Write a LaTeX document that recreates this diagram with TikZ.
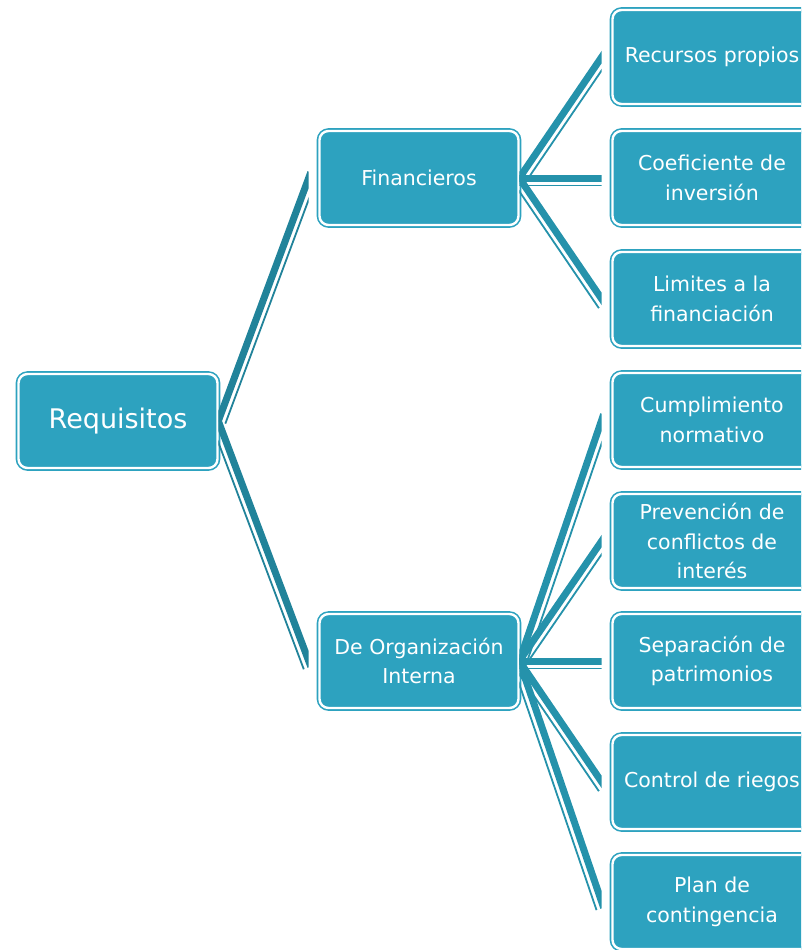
\documentclass[tikz,border=0pt]{standalone}
\usepackage{fontspec}
\setmainfont{DejaVu Sans}
\usetikzlibrary{calc}
\definecolor{boxteal}{HTML}{2DA2BF}
\definecolor{linkteal}{HTML}{2592AB}
\definecolor{linkdark}{HTML}{21839A}
\tikzset{
  box/.style={fill=boxteal, draw=boxteal, double=white, double distance=2.4pt,
    line width=1.6pt, rounded corners=9pt, minimum width=199pt,
    minimum height=94pt, text=white, align=center, inner sep=2pt,
    font=\fontsize{20.5}{29.5}\selectfont},
  rootbox/.style={box, font=\fontsize{27}{32}\selectfont},
  thickbranch/.style={line width=7pt},
  thinbranch/.style={line width=1.8pt}
}
% #1 colour, #2 parent, #3 child
\newcommand{\branch}[3]{%
  \coordinate (#3in) at ($(#3.west)+(-10,0)$);
  \begin{scope}
    \clip (#2.east |- top) rectangle (#3in |- bottom);
    \draw[thickbranch,#1] (#2.east) -- ($(#3in)!-6pt!(#2.east)$);
    \draw[thinbranch,#1] ($(#2.east)!7.5pt!-90:(#3in)$) -- ($($(#3in)!-6pt!(#2.east)$)!7.5pt!90:(#2.east)$);
  \end{scope}
}
\begin{document}
\begin{tikzpicture}[x=1pt,y=-1pt]
      \useasboundingbox (0,0) rectangle (801,950);
      \clip (0,0) rectangle (801,950);
      \coordinate (top) at (0,0);
      \coordinate (bottom) at (801,950);
      \node[rootbox] (req) at (118,421) {Requisitos};
      \node[box] (fin) at (419,178) {Financieros};
      \node[box] (org) at (419,661) {De Organización\\Interna};
      \node[box] (rec) at (712,57) {Recursos propios};
      \node[box] (coef) at (712,178) {Coeficiente de\\inversión};
      \node[box] (lim) at (712,299) {Limites a la\\financiación};
      \node[box] (cum) at (712,420) {Cumplimiento\\normativo};
      \node[box] (prev) at (712,541) {Prevención de\\conflictos de\\interés};
      \node[box] (sep) at (712,661) {Separación de\\patrimonios};
      \node[box] (ctrl) at (712,782) {Control de riegos};
      \node[box] (plan) at (712,902) {Plan de\\contingencia};
      \branch{linkdark}{req}{fin}
      \branch{linkdark}{req}{org}
      \branch{linkteal}{fin}{rec}
      \branch{linkteal}{fin}{coef}
      \branch{linkteal}{fin}{lim}
      \branch{linkteal}{org}{cum}
      \branch{linkteal}{org}{prev}
      \branch{linkteal}{org}{sep}
      \branch{linkteal}{org}{ctrl}
      \branch{linkteal}{org}{plan}
    \end{tikzpicture}
\end{document}
